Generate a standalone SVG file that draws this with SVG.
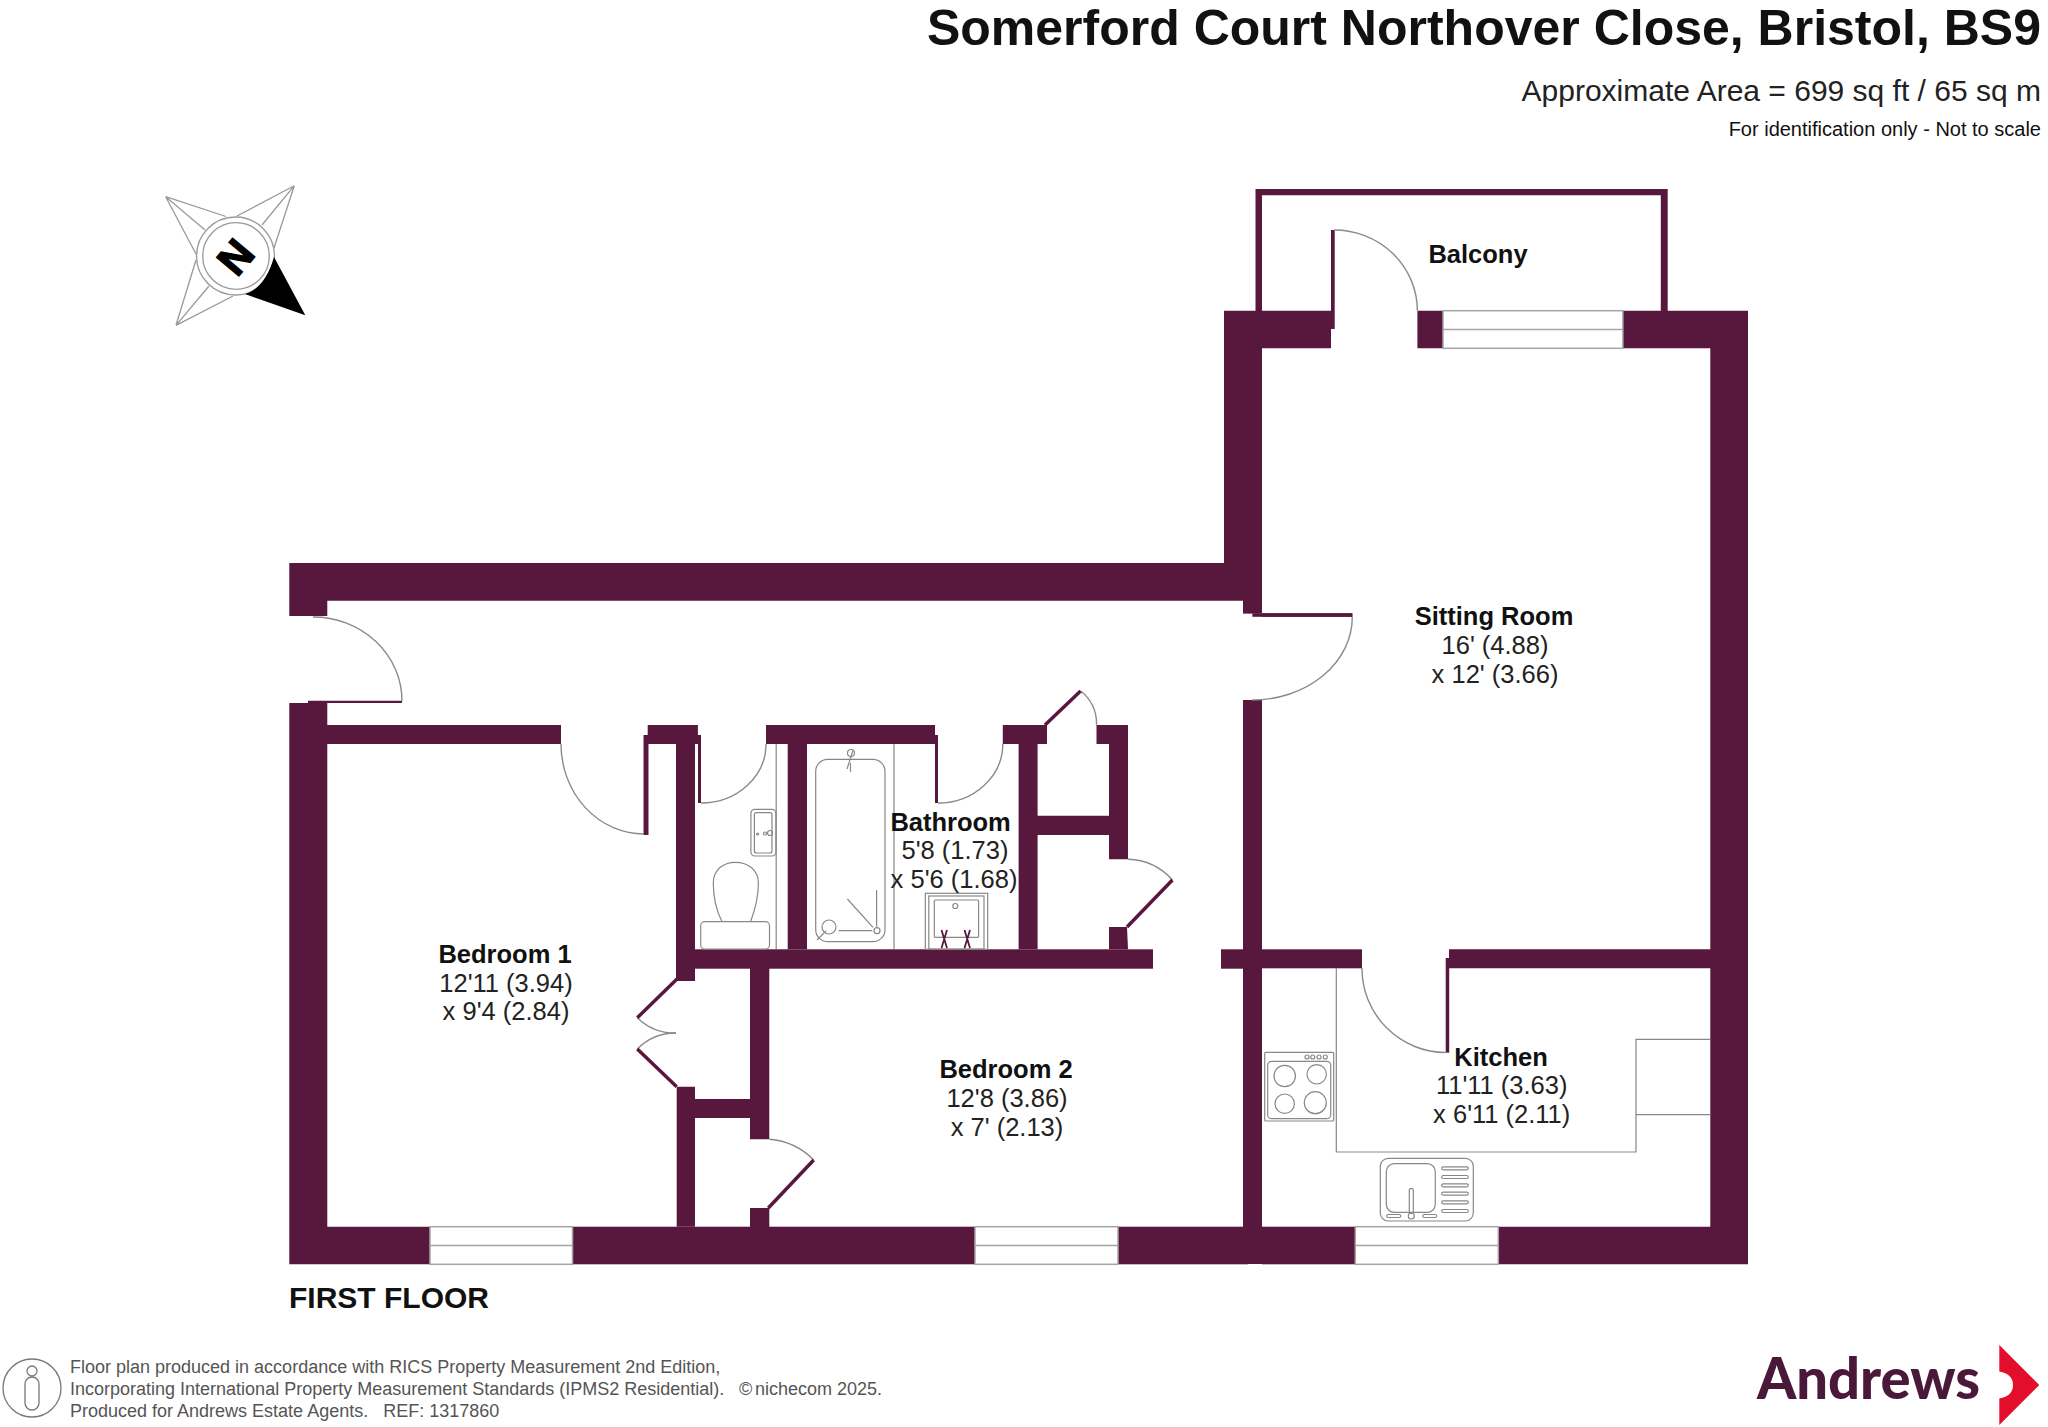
<svg xmlns="http://www.w3.org/2000/svg" width="2048" height="1427" viewBox="0 0 2048 1427">
<style>
text{font-family:"Liberation Sans",Arial,sans-serif;fill:#111}
.n{font-weight:700;font-size:25.5px;text-anchor:middle}
.d{font-size:25.5px;text-anchor:middle;fill:#222}
.f{font-size:18px;fill:#555;white-space:pre}
.w{fill:#58183e}
.g{fill:#fff;stroke:#a5a5a5;stroke-width:1.5}
.a{fill:none;stroke:#8a8a8a;stroke-width:1.4}
.l{fill:none;stroke:#58183e;stroke-width:3.5}
.t{fill:none;stroke:#888;stroke-width:1.2}
.c{fill:none;stroke:#999;stroke-width:1.3}
</style>
<rect width="2048" height="1427" fill="#fff"/>
<g id="header">
<text x="2041" y="45" font-size="50" font-weight="700" text-anchor="end">Somerford Court Northover Close, Bristol, BS9</text>
<text x="2041" y="101" font-size="30" text-anchor="end" style="fill:#222">Approximate Area = 699 sq ft / 65 sq m</text>
<text x="2041" y="136" font-size="20" text-anchor="end">For identification only - Not to scale</text>
</g>
<g id="compass">
<g class="c">
<circle cx="235.5" cy="256" r="39"/><circle cx="236" cy="256" r="33.3"/>
<path d="M165.7 196.7L226 216.5M165.7 196.7L205 230M165.7 196.7L196 254M294.3 185.7L237 216M294.3 185.7L262 225M294.3 185.7L274 248M176 325.3L196 260M176 325.3L209 286M176 325.3L233 296"/>
</g>
<path d="M274 257L305.3 315.3L245 294Q265 288 274 257Z" fill="#000"/>
<text transform="translate(235.3 256.7) rotate(-50)" y="15" font-size="42" font-weight="700" text-anchor="middle" stroke="#000" stroke-width="1.500" style="fill:#000">N</text>
</g>
<g id="walls">
<path class="w" d="M1255.500 189H1667.700V311H1660.800V195.300H1262V311H1255.500Z"/>
<path class="w" d="M1224 310.700H1334V329H1331V348.300H1262V563H1262V613.300H1262V616.700H1352.300V613.300H1252.400V600.700H1243V613.300H1252.400V600.700H327.300V616H289.300V563H1224Z"/>
<rect class="w" x="1331" y="230" width="3.700" height="99"/>
<rect class="w" x="1243" y="600" width="19" height="13.500"/>
<rect class="w" x="1252.400" y="613.300" width="100" height="3.500"/>
<rect class="w" x="1243" y="700" width="19" height="564"/>
<path class="w" d="M1417.400 310.700H1443V348.300H1417.400Z"/>
<path class="w" d="M1622.900 310.700H1748V1264.300H1498.300V1226.700H1710.300V968.300H1449V949.300H1710.300V348.300H1622.900Z"/>
<rect class="w" x="1262" y="949.300" width="100" height="19"/>
<rect class="w" x="1221" y="949.300" width="41" height="19.400"/>
<rect class="w" x="1262" y="1226.700" width="93.300" height="37.600"/>
<rect class="w" x="1445.700" y="958" width="3.500" height="94.700"/>
<path class="w" d="M289.300 703H308V700.700H402V703H327.300V725H561V744H327.300V1226.700H430V1264.300H289.300Z"/>
<rect class="w" x="572.500" y="1226.700" width="402.500" height="37.600"/>
<rect class="w" x="1118" y="1226.700" width="130" height="37.600"/>
<path class="w" d="M647.700 725H697.900V735H701V803H698V744H695V981H676V744H648.500V835H643.500V735H647.700Z"/>
<path class="w" d="M766 725H935V735H938V803H935V744H807V949.300H787.700V744H766Z"/>
<path class="w" d="M1002.800 725H1047V744H1037.600V815.700H1109V744H1096.500V725H1128V859.300H1109V835H1037.600V949.300H1018.600V744H1002.800Z"/>
<path class="w" d="M1109 927H1127L1128 949.300H1109Z"/>
<rect class="w" x="676" y="949.300" width="477" height="19.400"/>
<path class="w" d="M676.700 1086.700H695V1099H750V968H769.300V1139.300H750V1118H695V1226.700H676.700Z"/>
<rect class="w" x="750" y="1208" width="19.300" height="19"/>
</g>
<g id="windows">
<g class="g">
<rect x="1443" y="310.700" width="179.900" height="37.600"/><path d="M1443 329.500H1622.900"/>
<rect x="430" y="1226.700" width="142.500" height="37.600"/><path d="M430 1245.500H572.500"/>
<rect x="975" y="1226.700" width="143" height="37.600"/><path d="M975 1245.500H1118"/>
<rect x="1355.300" y="1226.700" width="143" height="37.600"/><path d="M1355.300 1245.500H1498.300"/>
</g>
</g>
<g id="doors">
<path class="a" d="M1334 230A83 81 0 0 1 1417.400 310.700"/>
<path class="a" d="M1352.300 617A100 83 0 0 1 1252 700"/>
<path class="a" d="M313 617A89 84 0 0 1 402 701"/>
<path class="a" d="M561 744A83 90 0 0 0 644 834"/>
<path class="a" d="M701 803A65 59 0 0 0 766 744"/>
<path class="a" d="M938 803A65 59 0 0 0 1002.800 744"/>
<path class="a" d="M1080.600 691A40 40 0 0 1 1096.500 725"/>
<path class="a" d="M1128 859.300A62 62 0 0 1 1172.400 880"/>
<path class="a" d="M637.300 1017.700A54 54 0 0 0 676 1033"/>
<path class="a" d="M676 1033A54 54 0 0 0 637.300 1049"/>
<path class="a" d="M769.300 1139.300A70 70 0 0 1 813.700 1160"/>
<path class="a" d="M1362 968A84 84 0 0 0 1445.700 1052.500"/>
<g class="l">
<path d="M1045 725L1080.600 691"/>
<path d="M1172.400 880L1127 927"/>
<path d="M677 979L637.300 1017.700"/>
<path d="M637.300 1049L676.700 1086.700"/>
<path d="M813.700 1160L768.300 1208"/>
</g>
</g>
<g id="fixtures">
<g class="t">
<path d="M776.200 744V949M894 744V949"/>
<rect x="750.900" y="809.300" width="25" height="46.700" rx="4"/><rect x="754.400" y="812.700" width="17.600" height="40.300" rx="2"/>
<circle cx="757.600" cy="834" r="1"/><circle cx="765" cy="833.500" r="1.500"/><circle cx="770" cy="833" r="2.500"/>
<path d="M722 921.700C716 910 713.300 895 713.300 883C713.300 870 723 862.300 735.500 862.300C748 862.300 758.400 870 758.400 883C758.400 895 755 910 750.500 921.700"/>
<rect x="700.700" y="921.700" width="68.800" height="27.300" rx="4"/>
<rect x="815.700" y="759.300" width="69.300" height="182.400" rx="12"/>
<path d="M847 769L853 750.500M850.500 763V772"/><circle cx="851" cy="753" r="3.500"/>
<circle cx="829" cy="927" r="7"/><path d="M826 931L817 940M838.700 930.700H872.300M847.400 899L873 927.300M876.600 890V926.700"/>
<circle cx="877" cy="930.700" r="3"/>
<rect x="925.300" y="893.300" width="62.400" height="56"/><rect x="928.800" y="896" width="55.200" height="53"/><rect x="934.300" y="900" width="44.300" height="37.300" rx="1"/>
<circle cx="955.300" cy="906" r="2.500"/>
<rect x="1264.700" y="1052.300" width="69" height="68.700" rx="1"/><rect x="1267.700" y="1061.300" width="63" height="57.400" rx="4"/>
<circle cx="1284.700" cy="1076" r="10.700"/><circle cx="1316.700" cy="1074.300" r="9.700"/><circle cx="1284.700" cy="1103.700" r="9.700"/><circle cx="1315.300" cy="1102.700" r="11"/>
<circle cx="1307" cy="1057" r="2"/><circle cx="1312.700" cy="1057" r="2"/><circle cx="1319" cy="1057" r="2"/><circle cx="1325.300" cy="1057" r="2"/>
<path d="M1336.300 968V1152H1636V1039.300H1710M1636 1114.700H1710"/>
<rect x="1380.300" y="1158.300" width="93" height="62.700" rx="8"/><rect x="1386.300" y="1163.700" width="49" height="48.600" rx="8"/>
<rect x="1409.300" y="1188.300" width="4" height="25" rx="2"/><circle cx="1411.300" cy="1216" r="3"/>
<rect x="1441.700" y="1166.800" width="26.600" height="3" rx="1.500"/><rect x="1441.700" y="1175.500" width="26.600" height="3" rx="1.500"/><rect x="1441.700" y="1183.800" width="26.600" height="3" rx="1.500"/><rect x="1441.700" y="1192.200" width="26.600" height="3" rx="1.500"/><rect x="1441.700" y="1200.800" width="26.600" height="3" rx="1.500"/><rect x="1441.700" y="1209.500" width="26.600" height="3" rx="1.500"/>
<rect x="1386.700" y="1214.500" width="14" height="3" rx="1.500"/><rect x="1422.700" y="1214.500" width="14" height="3" rx="1.500"/>
</g>
<path d="M941.500 930L947 948M947 930L941.500 948M964.500 930L970 948M970 930L964.500 948" stroke="#58183e" stroke-width="1.800" fill="none"/>
</g>
<g id="room-balcony"><text class="n" x="1478" y="263">Balcony</text></g>
<g id="room-sitting"><text class="n" x="1494" y="625">Sitting Room</text><text class="d" x="1495" y="654">16' (4.88)</text><text class="d" x="1495" y="683">x 12' (3.66)</text></g>
<g id="room-bathroom"><text class="n" x="950.600" y="831">Bathroom</text><text class="d" x="955" y="859">5'8 (1.73)</text><text class="d" x="954" y="888">x 5'6 (1.68)</text></g>
<g id="room-kitchen"><text class="n" x="1501" y="1066">Kitchen</text><text class="d" x="1501.700" y="1094">11'11 (3.63)</text><text class="d" x="1501.700" y="1123">x 6'11 (2.11)</text></g>
<g id="room-bedroom1"><text class="n" x="505" y="963">Bedroom 1</text><text class="d" x="506" y="992">12'11 (3.94)</text><text class="d" x="506" y="1020">x 9'4 (2.84)</text></g>
<g id="room-bedroom2"><text class="n" x="1006" y="1078">Bedroom 2</text><text class="d" x="1007" y="1107">12'8 (3.86)</text><text class="d" x="1007" y="1136">x 7' (2.13)</text></g>
<text id="floor-label" x="289" y="1308" font-size="30" font-weight="700">FIRST FLOOR</text>
<g id="footer">
<g fill="none" stroke="#777" stroke-width="1.300"><circle cx="32" cy="1388" r="29"/><circle cx="32" cy="1371" r="5"/><rect x="25" y="1377" width="14" height="33" rx="7"/></g>
<text class="f" x="70" y="1373">Floor plan produced in accordance with RICS Property Measurement 2nd Edition,</text>
<text class="f" x="70" y="1395">Incorporating International Property Measurement Standards (IPMS2 Residential).</text>
<text class="f" x="70" y="1417">Produced for Andrews Estate Agents.   REF: 1317860</text>
<text class="f" x="739" y="1395">©</text>
<text class="f" x="755" y="1395">nichecom 2025.</text>
</g>
<g id="logo">
<text x="1757" y="1399" font-size="56.500" font-weight="900" textLength="223" lengthAdjust="spacingAndGlyphs" style="font-family:Lato,'Liberation Sans',sans-serif;fill:#4a1839">Andrews</text>
<path d="M1999.300 1345L2039.300 1385L1999.300 1425V1398.500Q2013 1396 2013 1385Q2013 1374 1999.300 1371.500Z" fill="#e30d2c"/>
</g>
</svg>
